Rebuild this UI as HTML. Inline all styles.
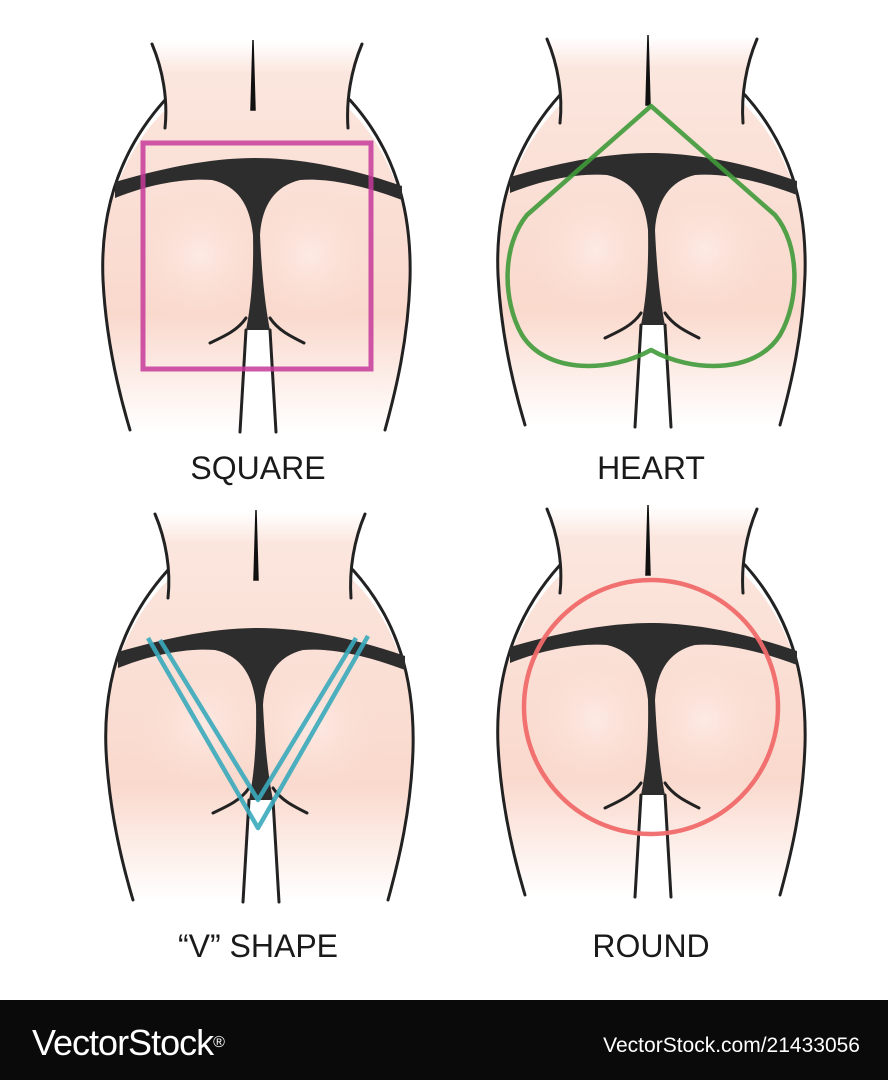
<!DOCTYPE html>
<html><head><meta charset="utf-8"><style>
html,body{margin:0;padding:0;background:#fff}
svg{display:block}
text{font-family:"Liberation Sans",sans-serif}
</style></head><body>
<svg width="888" height="1080" viewBox="0 0 888 1080" xmlns="http://www.w3.org/2000/svg">
<defs>
<linearGradient id="sk" x1="0" y1="0" x2="0" y2="1">
<stop offset="0" stop-color="#fff"/>
<stop offset="0.08" stop-color="#fbe6de"/>
<stop offset="0.7" stop-color="#fad9cd"/>
<stop offset="1" stop-color="#fff"/>
</linearGradient>
<radialGradient id="bt"><stop offset="0" stop-color="#fdeae4"/><stop offset="1" stop-color="#fbdcd0" stop-opacity="0"/></radialGradient>
<g id="fig">
<path d="M150,42 C162,70 168,95 165,110 C125,150 100,210 103,280 C106,340 120,390 130,432 L384,432 C394,390 408,340 410,280 C412,210 390,150 350,110 C346,95 350,70 363,42 Z" fill="url(#sk)"/>
<circle cx="200" cy="255" r="70" fill="url(#bt)"/>
<circle cx="310" cy="255" r="70" fill="url(#bt)"/>
<path d="M246,330 L240,432 L275,432 L270,330 Z" fill="#fff"/>
<g fill="none" stroke="#222" stroke-width="3" stroke-linecap="round">
<path d="M152,44 C163,70 168,100 165,128"/>
<path d="M362,44 C351,70 346,100 348,128"/>
<path d="M165,100 C120,150 100,210 103,280 C106,340 118,390 130,430"/>
<path d="M350,100 C395,150 412,210 410,280 C408,340 396,390 385,430"/>
<path d="M246,330 L240,432"/>
<path d="M270,330 L276,432"/>
<path d="M210,343 C225,336 238,330 246,318"/>
<path d="M304,343 C290,336 278,330 270,318"/>
</g>
<path d="M253,40 L255,110 L251,110 Z" fill="#111" stroke="#111" stroke-width="1.5"/>
<path d="M115,182 C170,166 215,158 255,158 C295,158 345,166 402,186 L402,200 C360,184 325,178 300,180 C275,186 262,205 260,235 C262,280 266,310 270,330 L246,330 C250,310 254,280 253,235 C250,205 238,186 212,180 C185,178 150,184 115,198 Z" fill="#2d2d2d"/>
</g>
</defs>

<use href="#fig"/>
<use href="#fig" transform="translate(395,-5)"/>
<use href="#fig" transform="translate(3,470)"/>
<use href="#fig" transform="translate(395,465)"/>

<rect x="143" y="143" width="228" height="226" fill="none" stroke="#c5399a" stroke-width="5" opacity="0.85"/>
<path d="M651,106 L775,215 C800,245 800,300 780,335 C755,375 690,372 651,350 C612,372 547,375 522,335 C502,300 502,245 527,215 Z" fill="none" stroke="#3f9a3a" stroke-width="4.5" opacity="0.9" stroke-linejoin="round"/>
<g stroke="#3aaabc" stroke-width="4.5" fill="none" opacity="0.9" stroke-linejoin="round">
<path d="M148,638 L258,828 L368,636"/>
<path d="M160,640 L258,800 L356,638"/>
</g>
<circle cx="651" cy="707" r="127" fill="none" stroke="#f06a6a" stroke-width="4.5" opacity="0.95"/>

<g font-size="32" fill="#1a1a1a" text-anchor="middle">
<text x="258" y="479">SQUARE</text>
<text x="651" y="479">HEART</text>
<text x="258" y="957">“V” SHAPE</text>
<text x="651" y="957">ROUND</text>
</g>

<rect x="0" y="1000" width="888" height="80" fill="#0a0a0a"/>
<text x="32" y="1055" font-size="36" fill="#fff" letter-spacing="-1">VectorStock<tspan font-size="16" baseline-shift="super">®</tspan></text>
<text x="860" y="1052" font-size="21" fill="#fff" text-anchor="end">VectorStock.com/21433056</text>
</svg>
</body></html>
